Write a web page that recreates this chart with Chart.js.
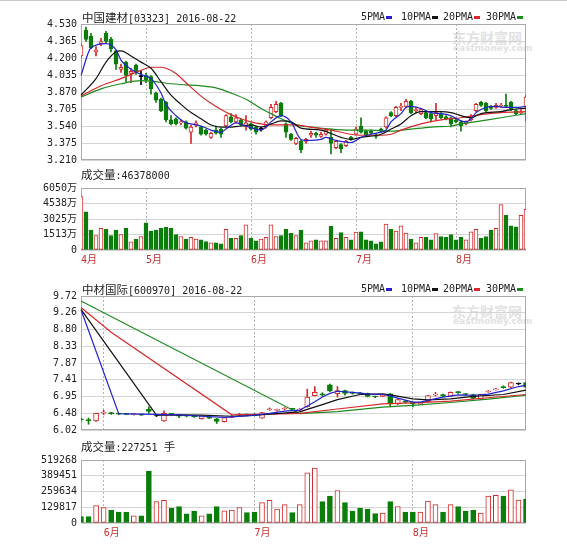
<!DOCTYPE html>
<html>
<head>
<meta charset="utf-8">
<script src="https://cdn.jsdelivr.net/npm/chart.js@4.4.1/dist/chart.umd.min.js"></script>
<style>
  body { margin: 0; background: #fff; width: 567px; height: 548px; position: relative; overflow: hidden;
         font-family: 'DejaVu Sans Mono', 'Noto Sans CJK SC', monospace; color: #222; }
  canvas { position: absolute; left: 0; }
  .txt { position: absolute; font-size: 10px; line-height: 12px; white-space: nowrap; }
  .cjk { font-family: 'Noto Sans CJK SC', sans-serif; font-size: 11.5px; }
  .lg { position: absolute; font-size: 10px; line-height: 12px; white-space: nowrap; }
  .lg i { display: inline-block; width: 6px; height: 3px; margin-left: 1px; vertical-align: middle; }
  .wm1 { position: absolute; color: #e2e2e2; font-family: 'Noto Sans CJK SC', sans-serif; font-weight: bold; font-size: 14px; line-height: 16px; }
  .wm2 { position: absolute; color: #e2e2e2; font-family: 'DejaVu Sans', sans-serif; font-weight: bold; font-size: 9px; line-height: 10px; }
  .topline { position: absolute; left: 0; top: 0; width: 567px; height: 1px; background: #cacaca; }
</style>
</head>
<body>
<div class="topline"></div>

<div class="wm1" style="left:452px;top:29px">东方财富网</div>
<div class="wm2" style="left:453px;top:43px">eastmoney.com</div>
<div class="wm1" style="left:452px;top:303px">东方财富网</div>
<div class="wm2" style="left:453px;top:316px">eastmoney.com</div>

<canvas id="topPrice" width="567" height="170" style="top:0"></canvas>
<canvas id="topVol" width="567" height="92" style="top:178px"></canvas>
<canvas id="botPrice" width="567" height="168" style="top:272px"></canvas>
<canvas id="botVol" width="567" height="94" style="top:450px"></canvas>

<div class="txt" style="left:82px;top:11px"><span class="cjk">中国建材</span>[03323] 2016-08-22</div>
<div class="lg" style="left:361px;top:11px">5PMA<i style="background:#2323c8"></i></div>
<div class="lg" style="left:401px;top:11px">10PMA<i style="background:#111"></i></div>
<div class="lg" style="left:443px;top:11px">20PMA<i style="background:#d42a2a"></i></div>
<div class="lg" style="left:486px;top:11px">30PMA<i style="background:#1f8a1f"></i></div>
<div class="txt" style="left:81px;top:168px"><span class="cjk">成交量</span>:46378000</div>

<div class="txt" style="left:82px;top:283px"><span class="cjk">中材国际</span>[600970] 2016-08-22</div>
<div class="lg" style="left:361px;top:283px">5PMA<i style="background:#2323c8"></i></div>
<div class="lg" style="left:401px;top:283px">10PMA<i style="background:#111"></i></div>
<div class="lg" style="left:443px;top:283px">20PMA<i style="background:#d42a2a"></i></div>
<div class="lg" style="left:486px;top:283px">30PMA<i style="background:#1f8a1f"></i></div>
<div class="txt" style="left:81px;top:440px"><span class="cjk">成交量</span>:227251 <span class="cjk">手</span></div>

<script>
// ---- 中国建材 03323 (HK), daily, mid-April to 2016-08-22 ----
const topOpen  = [4.22,4.47,4.41,4.26,4.34,4.44,4.38,4.27,4.09,4.16,4.05,4.13,4.02,4.03,4.02,3.86,3.80,3.77,3.60,3.61,
                  3.57,3.58,3.48,3.55,3.53,3.50,3.43,3.50,3.51,3.54,3.63,3.58,3.60,3.53,3.56,3.53,3.51,3.53,3.62,3.68,
                  3.76,3.56,3.46,3.37,3.39,3.39,3.45,3.47,3.44,3.46,3.43,3.33,3.36,3.35,3.43,3.46,3.54,3.49,3.49,3.45,
                  3.51,3.53,3.67,3.64,3.72,3.73,3.78,3.69,3.66,3.67,3.66,3.64,3.66,3.63,3.62,3.60,3.58,3.56,3.60,3.69,
                  3.77,3.76,3.73,3.72,3.73,3.74,3.77,3.69,3.67,3.72];
const topClose = [4.32,4.38,4.30,4.28,4.36,4.36,4.29,4.14,4.11,4.03,4.07,4.06,4.02,3.99,3.90,3.79,3.69,3.60,3.56,3.56,
                  3.58,3.52,3.53,3.57,3.46,3.46,3.47,3.47,3.46,3.64,3.58,3.62,3.55,3.57,3.51,3.48,3.51,3.58,3.72,3.75,
                  3.64,3.48,3.41,3.42,3.31,3.41,3.47,3.45,3.46,3.50,3.37,3.39,3.32,3.39,3.41,3.51,3.48,3.45,3.47,3.44,
                  3.49,3.62,3.64,3.72,3.73,3.78,3.67,3.70,3.70,3.62,3.61,3.67,3.62,3.61,3.56,3.58,3.54,3.58,3.62,3.75,
                  3.74,3.69,3.71,3.74,3.74,3.73,3.70,3.66,3.68,3.82];
const topHigh  = [4.34,4.50,4.44,4.31,4.39,4.46,4.40,4.28,4.14,4.17,4.10,4.14,4.07,4.05,4.03,3.87,3.81,3.78,3.64,3.62,
                  3.60,3.59,3.55,3.59,3.54,3.51,3.48,3.54,3.52,3.65,3.66,3.65,3.61,3.64,3.57,3.54,3.53,3.59,3.75,3.78,
                  3.77,3.57,3.47,3.43,3.40,3.42,3.49,3.48,3.48,3.51,3.51,3.40,3.37,3.40,3.44,3.53,3.62,3.50,3.50,3.47,
                  3.52,3.63,3.68,3.73,3.76,3.80,3.79,3.72,3.71,3.68,3.67,3.76,3.67,3.64,3.63,3.61,3.59,3.59,3.65,3.76,
                  3.78,3.77,3.74,3.76,3.76,3.85,3.78,3.70,3.70,3.84];
const topLow   = [4.20,4.36,4.29,4.22,4.32,4.35,4.26,4.09,4.06,3.97,3.96,4.04,3.94,3.96,3.85,3.77,3.68,3.58,3.55,3.55,
                  3.55,3.51,3.37,3.53,3.45,3.45,3.42,3.46,3.43,3.53,3.57,3.57,3.54,3.50,3.50,3.46,3.49,3.52,3.61,3.67,
                  3.63,3.43,3.40,3.36,3.28,3.37,3.43,3.43,3.43,3.45,3.27,3.32,3.28,3.34,3.40,3.45,3.47,3.44,3.46,3.42,
                  3.48,3.52,3.63,3.63,3.69,3.72,3.66,3.67,3.65,3.61,3.58,3.60,3.61,3.60,3.53,3.57,3.49,3.55,3.59,3.68,
                  3.73,3.68,3.70,3.71,3.72,3.72,3.69,3.65,3.66,3.59];
// volume in 万股
const topVol   = [5221,3716,1935,1413,2119,2027,1413,1935,1505,2119,798,1044,1321,2641,1843,1935,2119,2211,2119,1505,
                  1321,1075,1228,1075,983,829,706,706,614,2027,1136,1136,1413,2457,1167,891,1075,1228,2457,1321,
                  1413,2027,1628,1413,1935,706,891,983,891,891,2303,1136,1689,1228,983,1750,1781,983,891,614,
                  798,2518,2027,1843,2365,1658,1075,706,1228,1228,983,1597,1321,1228,1505,983,1228,983,1781,2027,
                  1136,1321,1935,2119,4422,3378,2365,2273,3378,3962];
// moving averages as [day index, value]
const topMa5  = [[0,4.03],[2,4.30],[5,4.34],[7,4.28],[8,4.18],[10,4.09],[12,4.04],[14,4.00],[16,3.86],[17,3.75],[19,3.64],
                 [21,3.57],[22,3.56],[24,3.54],[26,3.50],[28,3.48],[29,3.51],[31,3.57],[33,3.54],[35,3.51],[36,3.50],[38,3.58],
                 [40,3.64],[42,3.58],[44,3.41],[45,3.40],[48,3.41],[49,3.43],[51,3.40],[54,3.38],[56,3.43],[58,3.46],[60,3.48],
                 [61,3.50],[62,3.58],[64,3.66],[65,3.72],[66,3.73],[68,3.71],[70,3.67],[72,3.66],[74,3.64],[76,3.59],[77,3.58],
                 [78,3.61],[79,3.67],[81,3.72],[83,3.73],[85,3.72],[87,3.72],[89,3.73]];
const topMa10 = [[0,3.84],[3,4.00],[5,4.16],[7,4.26],[8,4.27],[10,4.22],[12,4.16],[14,4.10],[16,3.97],[18,3.84],[20,3.75],
                 [22,3.67],[24,3.61],[26,3.55],[28,3.53],[30,3.53],[32,3.54],[34,3.55],[36,3.53],[38,3.56],[40,3.59],[42,3.58],
                 [44,3.52],[48,3.50],[52,3.43],[54,3.41],[56,3.43],[60,3.46],[62,3.51],[64,3.56],[66,3.64],[68,3.68],[72,3.68],
                 [74,3.67],[76,3.64],[78,3.62],[80,3.66],[84,3.68],[88,3.71],[89,3.71]];
const topMa20 = [[0,3.83],[4,3.93],[8,4.00],[12,4.08],[14,4.11],[16,4.11],[17,4.10],[19,4.05],[21,3.96],[24,3.83],[26,3.76],
                 [28,3.70],[30,3.65],[32,3.61],[34,3.58],[36,3.56],[38,3.55],[42,3.55],[46,3.53],[50,3.50],[54,3.46],[56,3.45],
                 [60,3.45],[62,3.46],[64,3.50],[68,3.56],[72,3.60],[76,3.62],[80,3.65],[84,3.67],[89,3.68]];
const topMa30 = [[0,3.82],[4,3.90],[8,3.95],[12,3.98],[15,3.97],[18,3.95],[21,3.94],[24,3.93],[27,3.91],[30,3.86],[33,3.80],
                 [36,3.71],[38,3.66],[40,3.61],[42,3.57],[44,3.54],[46,3.53],[50,3.51],[54,3.50],[58,3.50],[62,3.49],[66,3.51],
                 [70,3.53],[74,3.54],[76,3.56],[80,3.59],[84,3.62],[89,3.66]];
const topPriceTicks  = [3.210,3.375,3.540,3.705,3.870,4.035,4.200,4.365,4.530];
const topPriceLabels = ['3.210','3.375','3.540','3.705','3.870','4.035','4.200','4.365','4.530'];
const topVolTicks    = [0,1512.5,3025,4537.5,6050];
const topVolLabels   = ['0','1513万','3025万','4538万','6050万'];
const topMonthIdx    = [0,13,34,55,75];
const topMonthNames  = ['4月','5月','6月','7月','8月'];

// ---- 中材国际 600970 (SH), daily, late May to 2016-08-22 ----
const botOpen  = [6.33,6.30,6.27,6.49,6.49,6.47,6.47,6.44,6.45,6.59,6.42,6.27,6.47,6.43,6.42,6.41,6.33,6.37,6.33,6.25,
                  6.37,6.43,6.45,6.45,6.35,6.58,6.56,6.60,6.61,6.57,6.66,6.97,7.02,7.27,7.02,7.11,7.05,7.04,7.03,6.95,
                  6.95,7.02,6.74,6.82,6.78,6.73,6.80,6.98,7.00,6.95,7.07,7.02,7.00,6.87,7.07,7.13,7.21,7.20,7.29,7.33];
const botClose = [6.30,6.28,6.48,6.51,6.47,6.46,6.45,6.46,6.43,6.53,6.42,6.48,6.45,6.40,6.40,6.39,6.41,6.35,6.26,6.36,
                  6.40,6.46,6.44,6.43,6.50,6.60,6.58,6.62,6.59,6.59,6.93,7.06,6.99,7.10,7.11,7.03,7.03,7.02,6.95,6.93,
                  6.98,6.76,6.86,6.79,6.74,6.76,6.97,7.01,6.96,7.06,7.05,7.00,6.89,7.00,7.09,7.15,7.19,7.33,7.29,7.20];
const botHigh  = [6.35,6.35,6.49,6.57,6.51,6.48,6.48,6.47,6.46,6.66,6.45,6.55,6.48,6.45,6.43,6.42,6.42,6.38,6.34,6.37,
                  6.42,6.48,6.46,6.47,6.51,6.63,6.60,6.64,6.62,6.61,7.15,7.22,7.05,7.29,7.22,7.12,7.07,7.06,7.04,6.96,
                  6.99,7.03,6.87,6.83,6.79,6.78,6.98,7.06,7.01,7.07,7.09,7.03,7.01,7.01,7.11,7.17,7.24,7.34,7.32,7.34];
const botLow   = [6.28,6.18,6.26,6.44,6.45,6.44,6.44,6.43,6.42,6.48,6.39,6.26,6.43,6.36,6.38,6.37,6.32,6.33,6.20,6.24,
                  6.36,6.42,6.42,6.42,6.34,6.56,6.54,6.58,6.57,6.55,6.65,6.96,6.96,7.08,6.93,6.98,7.01,7.00,6.93,6.91,
                  6.94,6.66,6.72,6.77,6.66,6.72,6.79,6.96,6.94,6.94,7.03,6.98,6.88,6.86,7.06,7.12,7.17,7.19,7.27,7.19];
// volume in 手
const botVol   = [53260,53260,143800,127800,106500,90540,90540,58590,58590,426080,175760,186400,122500,135800,74560,98530,58590,74560,135800,101200,
                  106500,127800,85220,90540,167770,186400,114500,151800,85220,151800,412800,452700,175760,221000,266300,167800,98530,122500,114500,77230,
                  82550,175760,135800,90540,90540,90540,181080,151800,90540,151800,135800,98530,106500,82550,221000,229000,221000,274300,189100,197100];
const botMa5  = [[0,9.34],[5,6.47],[8,6.46],[10,6.45],[13,6.44],[16,6.40],[19,6.37],[22,6.41],[25,6.48],[27,6.54],[29,6.57],
                 [30,6.68],[31,6.80],[32,6.93],[33,7.03],[34,7.09],[36,7.06],[38,7.02],[40,7.00],[41,6.96],[42,6.90],[44,6.79],
                 [45,6.79],[46,6.84],[48,6.93],[50,6.99],[52,6.98],[54,7.01],[56,7.10],[58,7.22],[59,7.25]];
const botMa10 = [[0,9.35],[10,6.43],[13,6.44],[16,6.43],[20,6.40],[23,6.42],[25,6.46],[29,6.52],[30,6.59],[32,6.72],[34,6.86],
                 [37,7.00],[40,7.02],[41,6.99],[44,6.88],[46,6.85],[49,6.88],[52,6.95],[56,7.00],[59,7.12]];
const botMa20 = [[0,9.40],[4,8.72],[20,6.44],[25,6.46],[29,6.48],[34,6.60],[40,6.74],[44,6.77],[49,6.82],[54,6.91],[59,7.00]];
const botMa30 = [[0,9.58],[29,6.47],[34,6.53],[40,6.65],[44,6.70],[49,6.78],[54,6.87],[59,6.98]];
const botPriceTicks  = [6.02,6.4825,6.945,7.4075,7.87,8.3325,8.795,9.2575,9.72];
const botPriceLabels = ['6.02','6.48','6.95','7.41','7.87','8.33','8.80','9.26','9.72'];
const botVolTicks    = [0,129817,259634,389451,519268];
const botVolLabels   = ['0','129817','259634','389451','519268'];
const botMonthIdx    = [3,23,44];
const botMonthNames  = ['6月','7月','8月'];

const RED = '#d42a2a';
const GREEN = '#0a7d0a';
const MA_COLORS = ['#2323c8', '#111111', '#d42a2a', '#1f8a1f'];
const FONT = "'DejaVu Sans Mono', 'Noto Sans CJK SC', monospace";

function sparse(pairs, n) {
  const a = new Array(n).fill(null);
  pairs.forEach(([i, v]) => { a[i] = v; });
  return a;
}

// grey box round the plot area
const frame = {
  id: 'frame',
  beforeDatasetsDraw(chart) {
    const { ctx, chartArea: a } = chart;
    ctx.save();
    ctx.strokeStyle = '#a9a9a9';
    ctx.lineWidth = 1;
    ctx.strokeRect(Math.round(a.left) + 0.5, Math.round(a.top) + 0.5, Math.round(a.width) - 1, Math.round(a.height) - 1);
    ctx.restore();
  }
};

function yAxis(min, max, ticks, labels) {
  return {
    min, max,
    afterFit: s => { s.width = 81; },
    afterBuildTicks: s => { s.ticks = ticks.map(v => ({ value: v })); },
    ticks: { padding: 4, color: '#222', font: { family: FONT, size: 10 }, callback: (v, i) => labels[i] },
    grid: { color: '#d4d4d4', drawTicks: false },
    border: { display: false }
  };
}

function xAxis(monthIdx, monthNames, showLabels, height) {
  return {
    offset: false,
    afterFit: s => { s.height = height; },
    grid: { offset: false, drawTicks: false, color: c => monthIdx.includes(c.index) ? '#b3b3b3' : 'rgba(0,0,0,0)' },
    border: { display: false, dash: [2, 2] },
    ticks: {
      display: showLabels, autoSkip: false, maxRotation: 0, minRotation: 0, align: 'start', padding: 4,
      color: '#c53030', font: { family: FONT, size: 10 },
      callback: (v, i) => { const k = monthIdx.indexOf(i); return k < 0 ? '' : monthNames[k]; }
    }
  };
}

function priceChart(id, o, c, h, l, mas, yt, yl, monthIdx, monthNames, barW, pad, smooth) {
  const n = o.length;
  const col = o.map((v, i) => c[i] > v ? RED : c[i] < v ? GREEN : '#000');
  const fill = o.map((v, i) => c[i] > v ? '#fff' : c[i] < v ? GREEN : '#000');
  new Chart(document.getElementById(id), {
    type: 'bar',
    data: {
      labels: o.map((_, i) => i),
      datasets: [
        ...mas.map((m, k) => ({
          type: 'line', data: sparse(m, n), borderColor: MA_COLORS[k], borderWidth: 1.2,
          pointRadius: 0, spanGaps: true, order: 0,
          cubicInterpolationMode: smooth ? 'monotone' : 'default', tension: 0
        })),
        { data: o.map((v, i) => [v, c[i]]), backgroundColor: fill, borderColor: col, borderWidth: 1,
          borderSkipped: false, barThickness: barW, minBarLength: 1, grouped: false, order: 1 },
        { data: l.map((v, i) => [v, h[i]]), backgroundColor: col, borderWidth: 0,
          barThickness: 1, grouped: false, order: 2 }
      ]
    },
    options: {
      responsive: false, animation: false, events: [],
      layout: { padding: pad },
      plugins: { legend: { display: false }, tooltip: { enabled: false } },
      scales: {
        x: xAxis(monthIdx, monthNames, false, 0),
        y: yAxis(yt[0], yt[yt.length - 1], yt, yl)
      }
    },
    plugins: [frame]
  });
}

function volumeChart(id, vol, o, c, yt, yl, monthIdx, monthNames, barW, pad) {
  const up = o.map((v, i) => c[i] >= v);
  new Chart(document.getElementById(id), {
    type: 'bar',
    data: {
      labels: vol.map((_, i) => i),
      datasets: [{
        data: vol,
        backgroundColor: up.map(u => u ? '#fff' : GREEN),
        borderColor: up.map(u => u ? RED : GREEN),
        borderWidth: 1, borderSkipped: false, barThickness: barW, grouped: false
      }]
    },
    options: {
      responsive: false, animation: false, events: [],
      layout: { padding: pad },
      plugins: { legend: { display: false }, tooltip: { enabled: false } },
      scales: {
        x: xAxis(monthIdx, monthNames, true, 19),
        y: yAxis(yt[0], yt[yt.length - 1], yt, yl)
      }
    },
    plugins: [frame]
  });
}

priceChart('topPrice', topOpen, topClose, topHigh, topLow, [topMa5, topMa10, topMa20, topMa30],
  topPriceTicks, topPriceLabels, topMonthIdx, topMonthNames, 4, { left: 0, right: 41, top: 24, bottom: 7 }, true);
volumeChart('topVol', topVol, topOpen, topClose, topVolTicks, topVolLabels, topMonthIdx, topMonthNames, 4,
  { left: 0, right: 41, top: 7, bottom: 1 });
priceChart('botPrice', botOpen, botClose, botHigh, botLow, [botMa5, botMa10, botMa20, botMa30],
  botPriceTicks, botPriceLabels, botMonthIdx, botMonthNames, 5, { left: 0, right: 41, top: 24, bottom: 6 }, false);
volumeChart('botVol', botVol, botOpen, botClose, botVolTicks, botVolLabels, botMonthIdx, botMonthNames, 5,
  { left: 0, right: 41, top: 8, bottom: 2 });
</script>
</body>
</html>
